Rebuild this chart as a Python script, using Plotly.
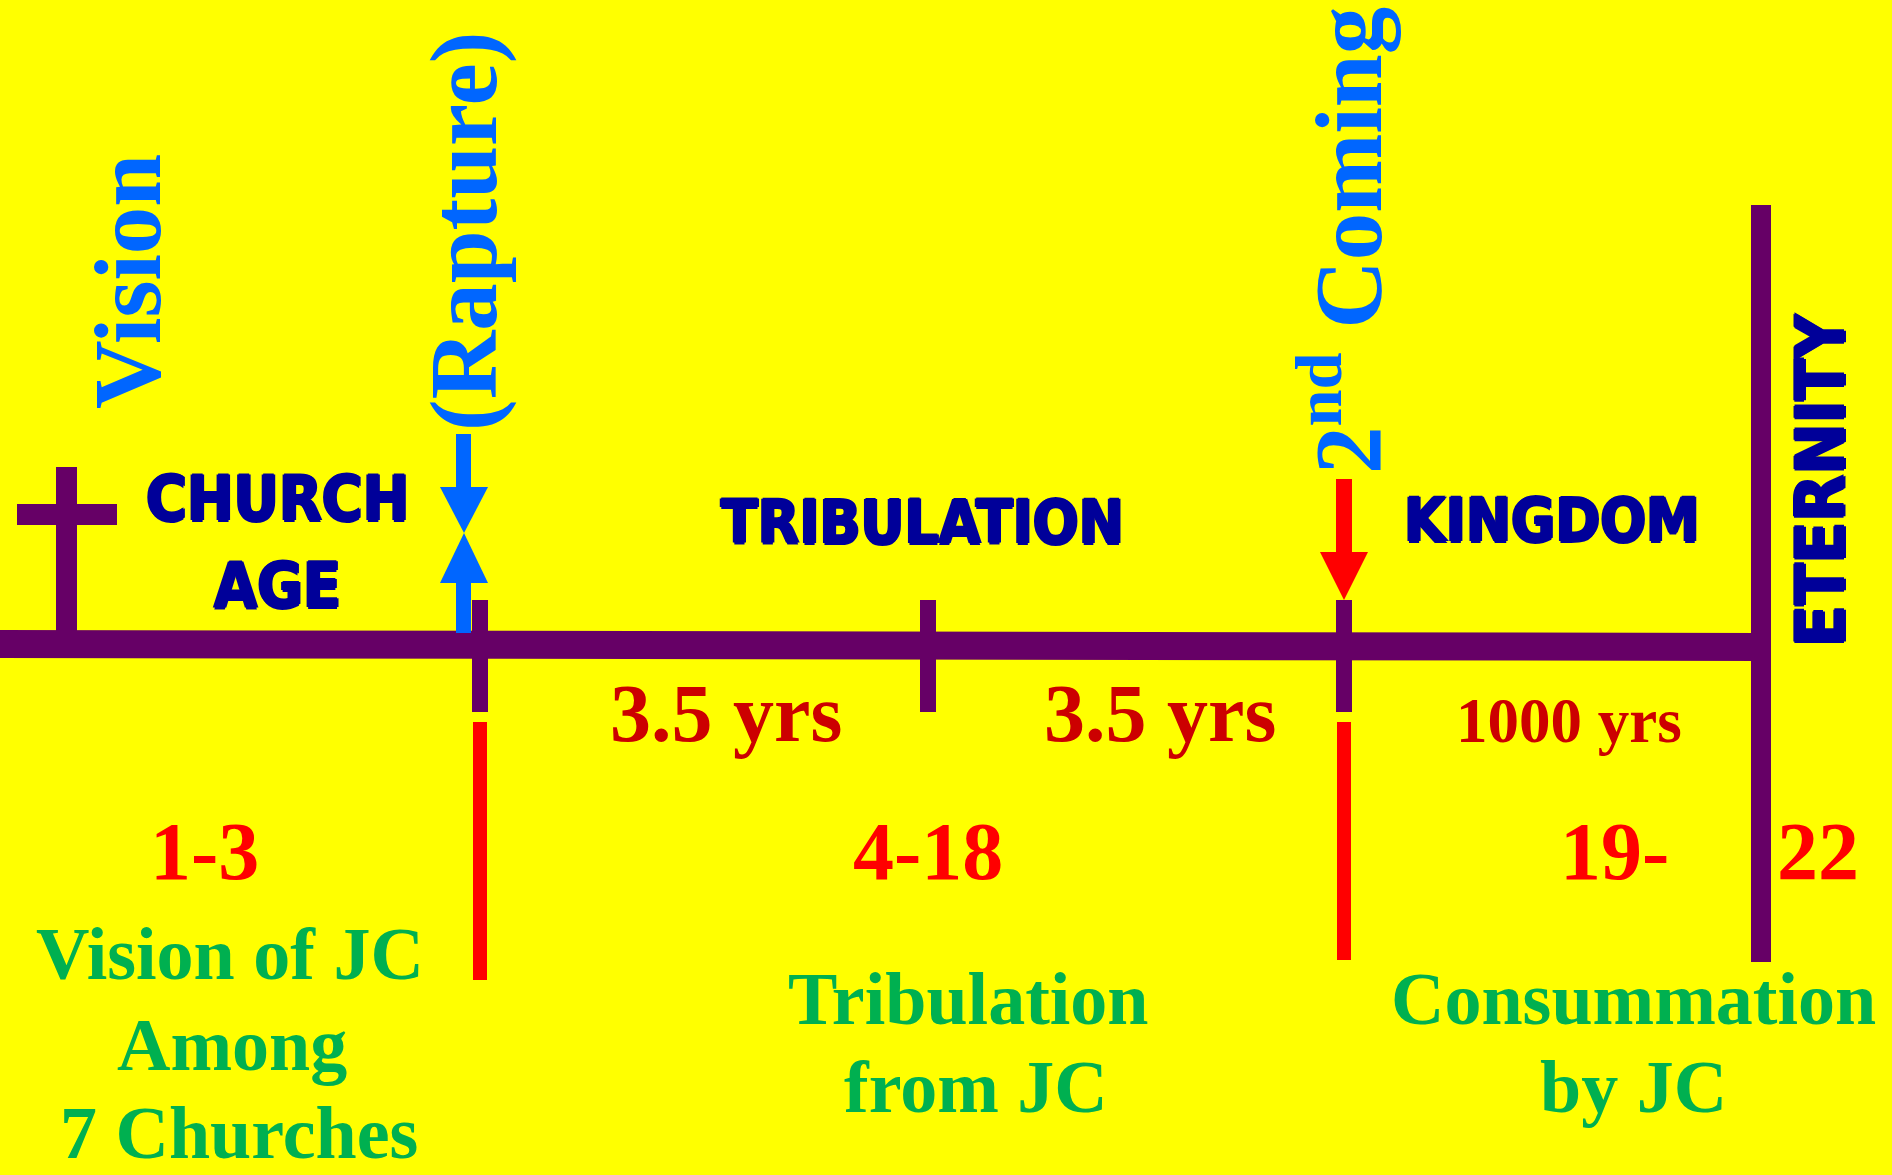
import plotly.graph_objects as go

# ---------------- data (text content of the diagram) ----------------
event_labels = ["Vision", "(Rapture)", "2<sup>nd</sup> Coming"]
period_labels = ["CHURCH", "AGE", "TRIBULATION", "KINGDOM"]
final_label = "ETERNITY"
durations = ["3.5 yrs", "3.5 yrs", "1000 yrs"]
chapters = ["1-3", "4-18", "19-", "22"]
theme_lines = ["Vision of JC", "Among", "7 Churches",
               "Tribulation", "from JC", "Consummation", "by JC"]

# ---------------- layout geometry (pixels) ----------------
W, H = 1892, 1175
YELLOW = "#FFFF00"
PURPLE = "#660066"
BLUE = "#0066FF"
NAVY = "#000099"
DKRED = "#CC0000"
RED = "#FF0000"
GREEN = "#00B050"

SERIF = "Liberation Serif, Times New Roman, serif"
IMPACT = "DejaVu Sans Condensed, DejaVu Sans, sans-serif"
HEAVY = ("1.5px 0 0 #000099, -1.5px 0 0 #000099, 0 1.5px 0 #000099, "
         "0 -1.5px 0 #000099")

event_pos = [(128, 282), (464, 232), (1342, 241)]
period_pos = [(277, 498), (277, 585), (922, 522), (1552, 520)]
period_size = [62, 62, 60, 60]
final_pos = (1820, 481)
duration_pos = [(726, 713), (1160, 713), (1569, 721)]
duration_size = [82, 82, 63]
chapter_pos = [(204, 851), (928, 851), (1614, 851), (1818, 851)]
theme_pos = [(230, 954), (232, 1045), (239, 1133),
             (968, 999), (976, 1087), (1633, 999), (1633, 1087)]

fig = go.Figure()

shapes = []


def rect(x0, y0, x1, y1, color):
    shapes.append(dict(type="rect", xref="x", yref="y", x0=x0, y0=y0, x1=x1, y1=y1,
                       fillcolor=color, line=dict(width=0), layer="above"))


def poly(pts, color):
    path = "M " + " L ".join(f"{x},{y}" for x, y in pts) + " Z"
    shapes.append(dict(type="path", xref="x", yref="y", path=path,
                       fillcolor=color, line=dict(width=0), layer="above"))


# main timeline (slightly sloped)
poly([(0, 630), (1761, 633), (1761, 661), (0, 658)], PURPLE)
# cross
rect(56, 467, 77, 640, PURPLE)
rect(17, 504, 117, 525, PURPLE)
# ticks
for tx in [480, 928, 1344]:
    rect(tx - 8, 600, tx + 8, 712, PURPLE)
# eternity bar
rect(1751, 205, 1771, 962, PURPLE)
# red dividers
rect(473, 722, 487, 980, RED)
rect(1337, 722, 1351, 960, RED)
# rapture arrows (blue)
rect(456, 434, 471, 490, BLUE)
poly([(440, 487), (488, 487), (464, 533)], BLUE)
poly([(440, 583), (488, 583), (464, 533)], BLUE)
rect(456, 580, 471, 633, BLUE)
# second coming arrow (red)
rect(1336, 479, 1352, 555, RED)
poly([(1320, 552), (1368, 552), (1344, 600)], RED)

annotations = []


def txt(x, y, s, size, color, family, angle=0, weight="bold", shadow=None):
    font = dict(size=size, color=color, family=family, weight=weight)
    if shadow:
        font["shadow"] = shadow
    annotations.append(dict(x=x, y=y, xref="x", yref="y", text=s, showarrow=False,
                            xanchor="center", yanchor="middle", textangle=angle,
                            font=font))


for (x, y), s in zip(event_pos, event_labels):
    txt(x, y, s, 95, BLUE, SERIF, -90)
for (x, y), s, fs in zip(period_pos, period_labels, period_size):
    txt(x, y, s, fs, NAVY, IMPACT, shadow=HEAVY)
txt(final_pos[0], final_pos[1], final_label, 68, NAVY, IMPACT, -90, shadow=HEAVY)
for (x, y), s, fs in zip(duration_pos, durations, duration_size):
    txt(x, y, s, fs, DKRED, SERIF)
for (x, y), s in zip(chapter_pos, chapters):
    txt(x, y, s, 82, RED, SERIF)
for (x, y), s in zip(theme_pos, theme_lines):
    txt(x, y, s, 74, GREEN, SERIF)

fig.update_layout(
    width=W, height=H,
    margin=dict(l=0, r=0, t=0, b=0),
    paper_bgcolor=YELLOW, plot_bgcolor=YELLOW,
    xaxis=dict(range=[0, W], visible=False, fixedrange=True),
    yaxis=dict(range=[H, 0], visible=False, fixedrange=True),
    shapes=shapes, annotations=annotations,
    showlegend=False,
)

fig.write_html("out.html", config={"displayModeBar": False},
               post_script="document.body.style.margin='0';document.body.style.overflow='hidden';")
